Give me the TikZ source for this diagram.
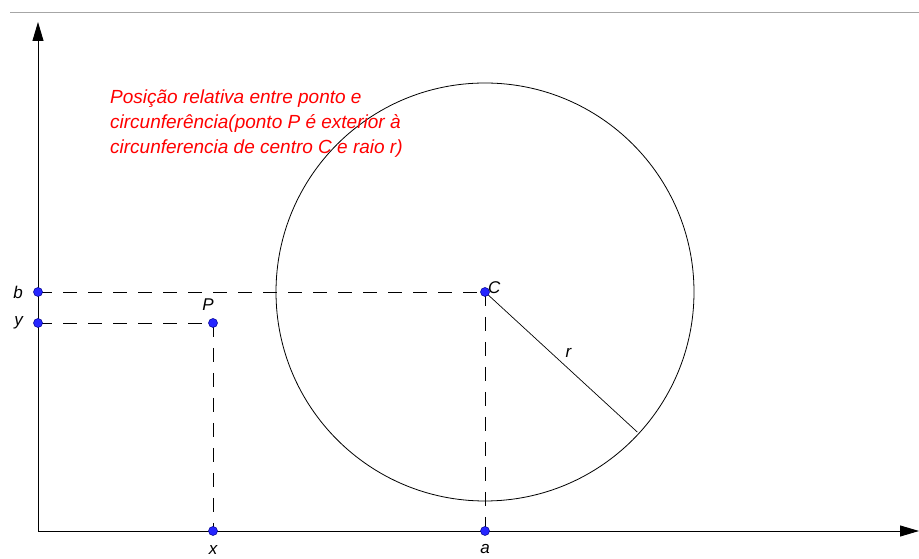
\documentclass[tikz,border=0pt]{standalone}
\usepackage{fontspec}
\setmainfont{Liberation Sans}
\usetikzlibrary{arrows.meta,calc,positioning}
\tikzset{axis/.style={-{Triangle[length=19pt, width=11pt]}, line width=0.9pt},
  guide/.style={dashed, dash pattern=on 14pt off 11pt, line width=0.8pt},
  dot/.style={circle, fill=blue!85!white, draw=blue!55!black, line width=0.5pt, inner sep=0pt, minimum size=9pt},
  lbl/.style={font=\itshape\fontsize{17}{17}\selectfont, inner sep=1pt}}

\begin{document}
\begin{tikzpicture}[x=1pt, y=1pt]
  \useasboundingbox (0,0) rectangle (919,559);
  \draw[gray!70, line width=0.7pt] (10,547) -- (919,547);
  \coordinate (O) at (38,28);
  \coordinate (ytip) at (38,537);
  \coordinate (xtip) at (919,28);
  \draw[axis] (O) -- (ytip);
  \draw[axis] (O) -- (xtip);
  % circle of centre C and radius r
  \coordinate (C) at (485,267);
  \draw[line width=0.8pt] (C) circle (209);
  \coordinate (R) at ($(C)+(-42.6:207)$);
  \draw[line width=0.7pt] (C) -- node[lbl, pos=0.5, above right=3pt and 3pt] {r} (R);
  \coordinate (P) at (213,236);
  \coordinate (b) at (38,267);
  \coordinate (y) at (38,236);
  \coordinate (x) at (213,28);
  \coordinate (a) at (485,28);
  \draw[guide] (b) -- (C);
  \draw[guide] (y) -- (P);
  \draw[guide] (P) -- (x);
  \draw[guide] (C) -- (a);
  \foreach \p in {b,y,P,C,x,a} \node[dot] (d\p) at (\p) {};
  \node[lbl, left=14pt of b] {b};
  \node[lbl, left=14pt of y] {y};
  \node[lbl, above left=11pt and -2pt of P] {P};
  \node[lbl, right=2pt of C, yshift=4pt] {C};
  \node[lbl, below=13pt of x] {x};
  \node[lbl, below=12pt of a] {a};
  \node[font=\itshape\fontsize{19}{25}\selectfont, text=red, align=left, anchor=north west, inner sep=0pt] (note) at (110,469)
    {Posição relativa entre ponto e\\circunferência(ponto P é exterior à\\circunferencia de centro C e raio r)};
\end{tikzpicture}
\end{document}
